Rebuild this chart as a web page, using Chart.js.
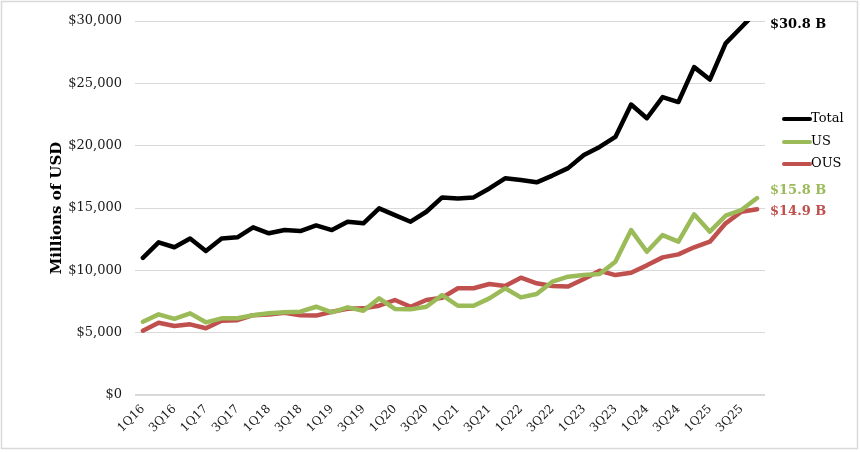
<!DOCTYPE html>
<html>
<head>
<meta charset="utf-8">
<script src="https://cdn.jsdelivr.net/npm/chart.js@4.4.1/dist/chart.umd.min.js"></script>
<style>
  html, body { margin: 0; padding: 0; background: #fff; }
  #wrap { width: 860px; height: 452px; position: relative; }
</style>
</head>
<body>
<div id="wrap"><canvas id="myChart" width="860" height="452"></canvas></div>
<script>
// quarters 1Q16 .. 4Q25
var quarters = [];
for (var yr = 16; yr <= 25; yr++) {
  for (var q = 1; q <= 4; q++) quarters.push(q + "Q" + yr);
}

// values, millions of USD
var totalVals = [11000, 12250, 11850, 12550, 11550, 12550, 12650, 13450, 12970, 13230,
  13150, 13600, 13230, 13900, 13770, 14970, 14430, 13900, 14700, 15850,
  15770, 15850, 16570, 17380, 17250, 17060, 17600, 18200, 19250, 19900,
  20700, 23300, 22200, 23900, 23500, 26300, 25300, 28200, 29500, 30800];
var usVals = [5880, 6470, 6100, 6550, 5830, 6150, 6150, 6400, 6550, 6630,
  6680, 7080, 6630, 7030, 6760, 7750, 6900, 6870, 7080, 8020,
  7160, 7160, 7750, 8560, 7830, 8100, 9090, 9490, 9620, 9700,
  10690, 13230, 11490, 12830, 12300, 14490, 13100, 14380, 14840, 15800];
var ousVals = [5160, 5800, 5530, 5670, 5350, 5960, 6000, 6400, 6450, 6600,
  6400, 6370, 6680, 6910, 6950, 7160, 7620, 7080, 7620, 7800,
  8560, 8560, 8900, 8740, 9410, 8960, 8740, 8700, 9300, 9970,
  9620, 9800, 10400, 11040, 11280, 11850, 12300, 13770, 14700, 14900];
var endLabels = ["$30.8 B", "$15.8 B", "$14.9 B"];

var serif = "'DejaVu Serif', 'Liberation Serif', serif";

// legend + end-of-line labels + outer frame
var extras = {
  id: "extras",
  afterDraw: function (chart) {
    var ctx = chart.ctx;
    var area = chart.chartArea;
    var yScale = chart.scales.y;
    ctx.save();
    ctx.strokeStyle = "#d9d9d9";
    ctx.lineWidth = 1.5;
    ctx.strokeRect(1.5, 1.5, 856, 447);

    // legend
    var legY = [119, 142, 164];
    chart.data.datasets.forEach(function (ds, i) {
      ctx.strokeStyle = ds.borderColor;
      ctx.lineWidth = 4;
      ctx.lineCap = "round";
      ctx.beginPath();
      ctx.moveTo(784, legY[i]);
      ctx.lineTo(810, legY[i]);
      ctx.stroke();
      ctx.fillStyle = "#000";
      ctx.font = "13px " + serif;
      ctx.textAlign = "left";
      ctx.textBaseline = "middle";
      ctx.fillText(ds.label, 811, legY[i]);
    });

    // end labels
    var offs = [4, -7, 2];
    chart.data.datasets.forEach(function (ds, i) {
      var v = ds.data[ds.data.length - 1];
      var y = Math.max(yScale.getPixelForValue(v), area.top) + offs[i];
      ctx.fillStyle = ds.borderColor;
      ctx.font = "bold 13px " + serif;
      ctx.textAlign = "left";
      ctx.textBaseline = "middle";
      ctx.fillText(endLabels[i], 770, y);
    });
    ctx.restore();
  }
};

var ctx = document.getElementById("myChart").getContext("2d");
var chart = new Chart(ctx, {
  type: "line",
  data: {
    labels: quarters,
    datasets: [
      { label: "Total", data: totalVals, borderColor: "#000000", backgroundColor: "#000000" },
      { label: "US", data: usVals, borderColor: "#9bbb59", backgroundColor: "#9bbb59" },
      { label: "OUS", data: ousVals, borderColor: "#c0504d", backgroundColor: "#c0504d" }
    ]
  },
  options: {
    responsive: false,
    animation: false,
    layout: { padding: { top: 21, right: 95, bottom: 0, left: 0 } },
    elements: {
      line: { borderWidth: 4.5, tension: 0, borderJoinStyle: "round", borderCapStyle: "round" },
      point: { radius: 0, hoverRadius: 0 }
    },
    plugins: {
      legend: { display: false },
      tooltip: { enabled: false }
    },
    scales: {
      x: {
        offset: true,
        grid: { display: false, drawTicks: false },
        border: { display: false },
        afterFit: function (scale) { scale.height = 57; },
        ticks: {
          autoSkip: false,
          maxRotation: 45,
          minRotation: 45,
          padding: 7,
          color: "#1a1a1a",
          font: { family: serif, size: 12 },
          callback: function (val, idx) {
            return idx % 2 === 0 ? quarters[idx] : "";
          }
        }
      },
      y: {
        min: 0,
        max: 30000,
        afterFit: function (scale) { scale.width = 135; },
        border: { display: false },
        grid: {
          drawTicks: false,
          color: "#d9d9d9",
          lineWidth: function (c) { return c.index === 0 ? 2 : 1; }
        },
        title: {
          display: true,
          text: "Millions of USD",
          color: "#000",
          font: { family: serif, size: 15, weight: "bold" },
          padding: { top: 48, bottom: 0 }
        },
        ticks: {
          stepSize: 5000,
          padding: 13,
          color: "#1a1a1a",
          font: { family: serif, size: 13 },
          callback: function (v) { return "$" + v.toLocaleString("en-US"); }
        }
      }
    }
  },
  plugins: [extras]
});
</script>
</body>
</html>
